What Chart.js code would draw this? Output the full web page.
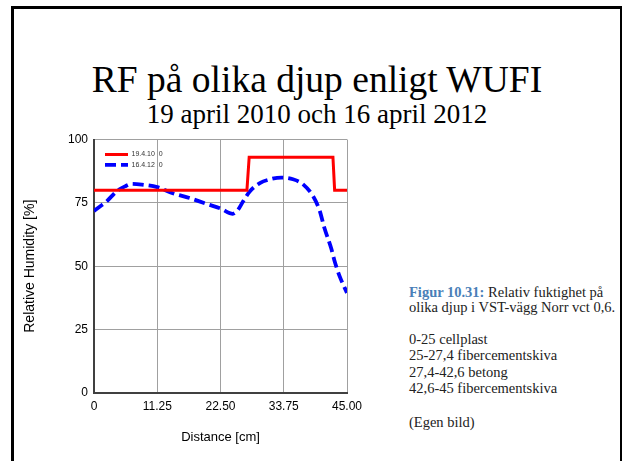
<!DOCTYPE html>
<html>
<head>
<meta charset="utf-8">
<script src="https://cdn.jsdelivr.net/npm/chart.js@4.4.1/dist/chart.umd.min.js"></script>
<style>
  html, body { margin:0; padding:0; background:#fff; width:622px; height:461px; overflow:hidden; }
  .frame { position:absolute; left:11px; top:6px; width:606px; height:520px; border:3px solid #000; box-sizing:content-box; }
  .title { position:absolute; left:0; width:634px; text-align:center; font-family:"Liberation Serif", serif; color:#000; white-space:nowrap; }
  .cap { position:absolute; left:409px; font-family:"Liberation Serif", serif; font-size:14.5px; line-height:16px; color:#222; white-space:nowrap; }
  .cap b { color:#4a7fb8; }
  #c { position:absolute; left:0; top:120px; }
</style>
</head>
<body>
<div class="frame"></div>
<div class="title" style="top:61px; font-size:37.5px; line-height:37px;">RF på olika djup enligt WUFI</div>
<div class="title" style="top:101px; font-size:27px; line-height:27px;">19 april 2010 och 16 april 2012</div>

<div class="cap" style="top:284px;"><b>Figur 10.31:</b> Relativ fuktighet på</div>
<div class="cap" style="top:299px;">olika djup i VST-vägg Norr vct 0,6.</div>
<div class="cap" style="top:331px;">0-25 cellplast</div>
<div class="cap" style="top:347px;">25-27,4 fibercementskiva</div>
<div class="cap" style="top:364px;">27,4-42,6 betong</div>
<div class="cap" style="top:380px;">42,6-45 fibercementskiva</div>
<div class="cap" style="top:414px;">(Egen bild)</div>

<canvas id="c" width="380" height="341"></canvas>
<script>
// ---- data ----
const seriesLabels = ['19.4.10  0', '16.4.12  0'];
const xTickLabels = ['0', '11.25', '22.50', '33.75', '45.00'];
const redX = [0, 27.2, 27.6, 42.5, 42.8, 45];
const redY = [80, 80, 93, 93, 80, 80];
const blueX = [0, 1, 2.2, 4, 5.5, 6.7, 8.5, 11.25, 14, 17, 20, 22.5, 24.7, 25.6, 26.5, 27.7, 29.5, 31.3, 33.3, 35.4, 37.2, 39, 40.1, 41, 42.2, 42.8, 43.7, 45];
const blueY = [71.8, 73.5, 75.5, 79.5, 81.5, 82.5, 82.2, 81.2, 78.8, 76.9, 74.6, 72.8, 70.7, 72.2, 75.5, 79.5, 82.8, 84.3, 85.0, 84.3, 82.3, 77.5, 72.2, 65, 57, 52, 46, 39.5];

const toXY = (xs, ys) => xs.map((x, i) => ({x, y: ys[i]}));

const innerLegend = {
  id: 'innerLegend',
  afterDatasetsDraw(chart) {
    const {ctx, chartArea} = chart;
    ctx.save();
    chart.data.datasets.forEach((ds, i) => {
      const y = chartArea.top + 15 + i * 10.4;
      const x0 = chartArea.left + 11, x1 = chartArea.left + 34;
      ctx.beginPath();
      ctx.strokeStyle = ds.borderColor;
      ctx.lineWidth = ds.borderWidth;
      ctx.setLineDash(ds.borderDash || []);
      ctx.moveTo(x0, y); ctx.lineTo(x1, y);
      ctx.stroke();
      ctx.setLineDash([]);
      ctx.fillStyle = '#333';
      ctx.font = '7px "Liberation Sans", Arial, sans-serif';
      ctx.textBaseline = 'middle';
      ctx.textAlign = 'left';
      ctx.fillText(ds.label, chartArea.left + 37.5, y);
    });
    ctx.restore();
  }
};

new Chart(document.getElementById('c'), {
  type: 'line',
  data: {
    datasets: [
      { label: seriesLabels[0], data: toXY(redX, redY), borderColor: '#ff0000', borderWidth: 3, pointRadius: 0, tension: 0, fill: false },
      { label: seriesLabels[1], data: toXY(blueX, blueY), borderColor: '#0000ff', borderWidth: 3.8, borderDash: [11, 5], pointRadius: 0, cubicInterpolationMode: 'monotone', fill: false }
    ]
  },
  options: {
    responsive: false,
    animation: false,
    devicePixelRatio: 1,
    layout: { padding: { left: 20, top: 19.5, right: 33, bottom: 16 } },
    plugins: { legend: { display: false }, tooltip: { enabled: false } },
    scales: {
      x: {
        type: 'linear', min: 0, max: 45,
        afterFit: s => { s.height = 52; },
        afterBuildTicks: s => { s.ticks = xTickLabels.map((t, i) => ({ value: i * 11.25 })); },
        ticks: { callback: (v, i) => xTickLabels[i], color: '#000', font: { family: '"Liberation Sans", Arial, sans-serif', size: 12 }, padding: 6, maxRotation: 0, autoSkip: false },
        grid: { color: '#a0a0a0', lineWidth: 1, drawTicks: false },
        border: { color: '#404040', width: 2 },
        title: { display: true, text: 'Distance [cm]', color: '#000', font: { family: '"Liberation Sans", Arial, sans-serif', size: 13 }, padding: { top: 0, bottom: 0 } }
      },
      y: {
        min: 0, max: 100,
        afterFit: s => { s.width = 74; },
        ticks: { stepSize: 25, color: '#000', font: { family: '"Liberation Sans", Arial, sans-serif', size: 12 }, padding: 6 },
        grid: { color: '#a0a0a0', lineWidth: 1, drawTicks: false },
        border: { color: '#404040', width: 2 },
        title: { display: true, text: 'Relative Humidity [%]', color: '#000', font: { family: '"Liberation Sans", Arial, sans-serif', size: 14 }, padding: { top: 1.5, bottom: 0 } }
      }
    }
  },
  plugins: [innerLegend]
});
</script>
</body>
</html>
